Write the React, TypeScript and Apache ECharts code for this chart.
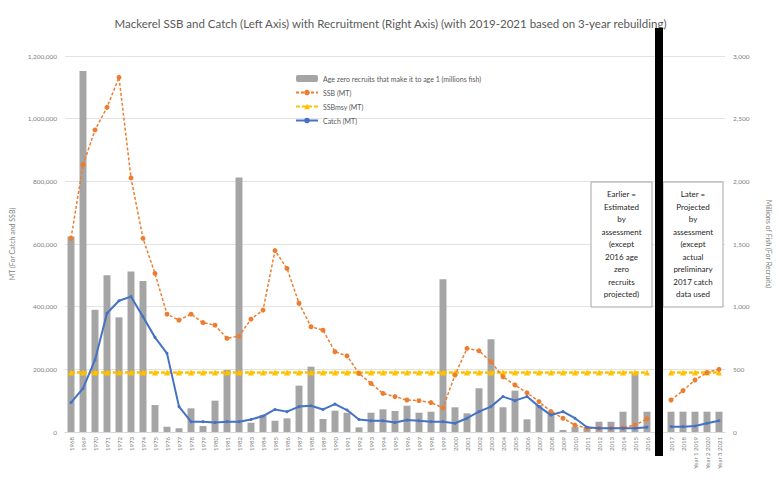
import React, { useEffect, useRef } from "react";
import * as echarts from "echarts";

const TITLE =
  "Mackerel SSB and Catch (Left Axis) with Recruitment (Right Axis) (with 2019-2021 based on 3-year rebuilding)";

const categories = [
  "1968", "1969", "1970", "1971", "1972", "1973", "1974", "1975", "1976", "1977",
  "1978", "1979", "1980", "1981", "1982", "1983", "1984", "1985", "1986", "1987",
  "1988", "1989", "1990", "1991", "1992", "1993", "1994", "1995", "1996", "1997",
  "1998", "1999", "2000", "2001", "2002", "2003", "2004", "2005", "2006", "2007",
  "2008", "2009", "2010", "2011", "2012", "2013", "2014", "2015", "2016",
  "",
  "2017", "2018", "Year 1 2019", "Year 2 2020", "Year 3 2021",
];

const GAP_INDEX = 49;

const recruits = [
  1560, 2880, 975, 1250, 915, 1280, 1205, 215, 42, 30,
  189, 48, 250, 495, 2030, 74, 136, 90, 109, 370,
  521, 104, 170, 154, 37, 154, 181, 168, 210, 154,
  162, 1218, 197, 149, 349, 740, 197, 330, 101, 215,
  162, 16, 42, 40, 82, 82, 162, 468, 162,
  null,
  162, 162, 162, 162, 162,
];

const ssb = [
  618000, 852000, 964000, 1036000, 1132000, 811000, 618000, 506000, 376000, 357000,
  376000, 349000, 341000, 299000, 306000, 360000, 389000, 579000, 522000, 411000,
  336000, 325000, 256000, 243000, 187000, 155000, 123000, 113000, 102000, 100000,
  94000, 77000, 182000, 267000, 259000, 224000, 176000, 150000, 125000, 97000,
  65000, 44000, 22000, 12000, 12000, 12000, 14000, 22000, 42000,
  null,
  102000, 132000, 166000, 190000, 200000,
];

const ssbMsy = [
  190000, 190000, 190000, 190000, 190000, 190000, 190000, 190000, 190000, 190000,
  190000, 190000, 190000, 190000, 190000, 190000, 190000, 190000, 190000, 190000,
  190000, 190000, 190000, 190000, 190000, 190000, 190000, 190000, 190000, 190000,
  190000, 190000, 190000, 190000, 190000, 190000, 190000, 190000, 190000, 190000,
  190000, 190000, 190000, 190000, 190000, 190000, 190000, 190000, 190000,
  null,
  190000, 190000, 190000, 190000, 190000,
];

const catchMT = [
  94000, 139000, 230000, 379000, 419000, 432000, 368000, 302000, 251000, 81000,
  33000, 33000, 30000, 33000, 33000, 40000, 51000, 72000, 65000, 81000,
  84000, 72000, 89000, 70000, 40000, 36000, 36000, 30000, 38000, 36000,
  33000, 33000, 28000, 44000, 65000, 81000, 113000, 100000, 113000, 81000,
  54000, 65000, 44000, 15000, 12000, 12000, 12000, 12000, 15000,
  null,
  17000, 17000, 19000, 28000, 36000,
];

const leftTicks = { min: 0, max: 1200000, interval: 200000 };
const rightTicks = { min: 0, max: 3000, interval: 500 };

const noteLeft = [
  "Earlier =", "Estimated", "by", "assessment", "(except", "2016 age", "zero", "recruits", "projected)",
];
const noteRight = [
  "Later =", "Projected", "by", "assessment", "(except", "actual", "preliminary", "2017 catch", "data used",
];

const FONT = "Lato, 'Open Sans', sans-serif";
const GREY = "#7f7f7f";

export default function App() {
  const ref = useRef<HTMLDivElement>(null);

  useEffect(() => {
    if (!ref.current) return;
    const chart = echarts.init(ref.current, null, { renderer: "svg" });
    const fmt = (v: number) => v.toLocaleString("en-US");

    chart.setOption({
      animation: false,
      backgroundColor: "#ffffff",
      textStyle: { fontFamily: FONT },
      title: {
        text: TITLE,
        left: "center",
        top: 12,
        textStyle: { fontFamily: FONT, fontSize: 11.5, fontWeight: "normal", color: "#595959" },
      },
      legend: {
        orient: "vertical",
        left: 290,
        top: 70,
        itemGap: 7,
        itemWidth: 22,
        itemHeight: 7,
        textStyle: { fontFamily: FONT, fontSize: 7, color: "#595959" },
        data: [
          "Age zero recruits that make it to age 1 (millions fish)",
          "SSB (MT)",
          "SSBmsy (MT)",
          "Catch (MT)",
        ],
      },
      grid: { left: 64, right: 56, top: 56, bottom: 61 },
      xAxis: {
        type: "category",
        data: categories,
        boundaryGap: true,
        axisLine: { lineStyle: { color: "#d9d9d9" } },
        axisTick: { show: false },
        axisLabel: {
          rotate: 90,
          interval: 0,
          fontSize: 6,
          color: GREY,
          fontFamily: FONT,
          margin: 5,
        },
      },
      yAxis: [
        {
          type: "value",
          ...leftTicks,
          name: "MT (For Catch and SSB)",
          nameLocation: "middle",
          nameGap: 50,
          nameTextStyle: { fontSize: 7, color: GREY, fontFamily: FONT },
          axisLine: { show: false },
          axisTick: { show: false },
          axisLabel: { fontSize: 6.5, color: GREY, formatter: fmt, margin: 8 },
          splitLine: { lineStyle: { color: "#e3e3e3" } },
        },
        {
          type: "value",
          ...rightTicks,
          name: "Millions of Fish (For Recruits)",
          nameLocation: "middle",
          nameGap: 40,
          nameRotate: -90,
          nameTextStyle: { fontSize: 7, color: GREY, fontFamily: FONT },
          axisLine: { show: false },
          axisTick: { show: false },
          axisLabel: { fontSize: 6.5, color: GREY, formatter: fmt, margin: 8 },
          splitLine: { show: false },
        },
      ],
      series: [
        {
          name: "Age zero recruits that make it to age 1 (millions fish)",
          type: "bar",
          yAxisIndex: 1,
          data: recruits,
          barCategoryGap: "42%",
          itemStyle: { color: "#a5a5a5" },
          z: 1,
        },
        {
          name: "SSB (MT)",
          type: "line",
          yAxisIndex: 0,
          data: ssb,
          connectNulls: false,
          symbol: "circle",
          symbolSize: 5,
          lineStyle: { color: "#ed7d31", width: 1.5, type: [3, 2] },
          itemStyle: { color: "#ed7d31" },
          z: 3,
        },
        {
          name: "SSBmsy (MT)",
          type: "line",
          yAxisIndex: 0,
          data: ssbMsy,
          connectNulls: false,
          symbol: "triangle",
          symbolSize: 6,
          lineStyle: { color: "#ffc000", width: 2.5, type: [4, 2] },
          itemStyle: { color: "#ffc000" },
          z: 2,
        },
        {
          name: "Catch (MT)",
          type: "line",
          yAxisIndex: 0,
          data: catchMT,
          connectNulls: false,
          symbol: "circle",
          symbolSize: 3,
          lineStyle: { color: "#4472c4", width: 2 },
          itemStyle: { color: "#4472c4" },
          z: 4,
        },
      ],
    });

    const gapX = chart.convertToPixel({ xAxisIndex: 0 }, GAP_INDEX) as number;
    const noteText = (lines: string[], cx: number) => ({
      type: "text",
      z: 20,
      style: {
        x: cx,
        y: 244,
        text: lines.join("\n"),
        align: "center",
        verticalAlign: "middle",
        fontSize: 8,
        lineHeight: 12.5,
        fontFamily: FONT,
        fill: "#262626",
      },
    });

    chart.setOption({
      graphic: [
        {
          type: "rect",
          z: 20,
          shape: { x: 591, y: 182, width: 61, height: 125 },
          style: { fill: "#ffffff", stroke: "#a6a6a6", lineWidth: 1 },
        },
        noteText(noteLeft, 621.5),
        {
          type: "rect",
          z: 20,
          shape: { x: 663, y: 182, width: 60, height: 125 },
          style: { fill: "#ffffff", stroke: "#a6a6a6", lineWidth: 1 },
        },
        noteText(noteRight, 693),
        {
          type: "rect",
          z: 30,
          shape: { x: gapX - 4, y: 28, width: 8, height: 428 },
          style: { fill: "#000000" },
        },
      ],
    });

    return () => chart.dispose();
  }, []);

  return (
    <div
      ref={ref}
      style={{ position: "absolute", left: 0, top: 0, width: 781, height: 493 }}
    />
  );
}
